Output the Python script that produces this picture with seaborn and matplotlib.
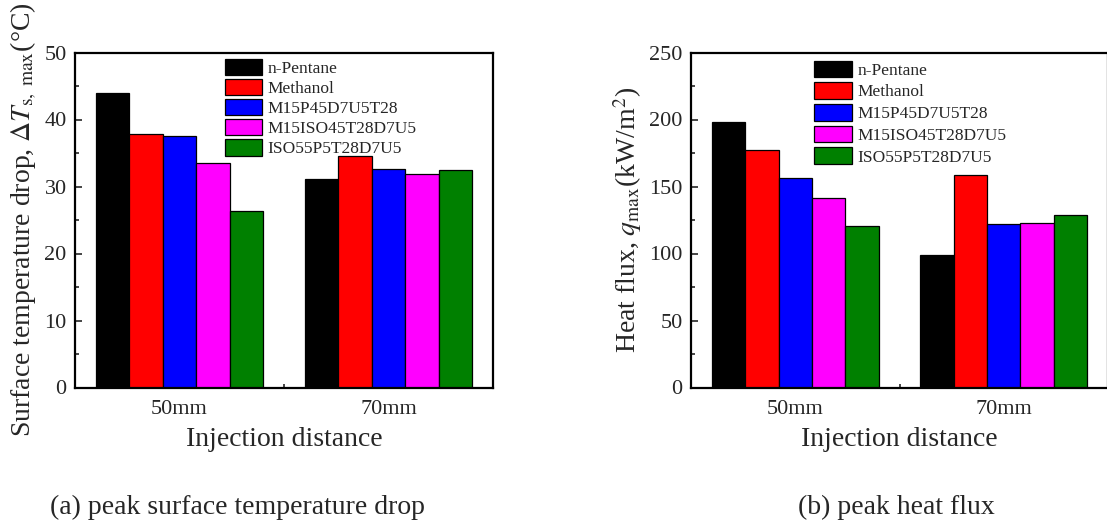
import pandas as pd
import seaborn as sns
import numpy as np
import matplotlib.pyplot as plt
from matplotlib.ticker import MultipleLocator

# values
distances = ['50mm', '70mm']
fuels = ['n-Pentane', 'Methanol', 'M15P45D7U5T28', 'M15ISO45T28D7U5', 'ISO55P5T28D7U5']
colors = ['black', 'red', 'blue', 'magenta', 'green']

temp_drop_50 = [44.0, 37.9, 37.6, 33.5, 26.4]
temp_drop_70 = [31.1, 34.5, 32.6, 31.8, 32.4]

heat_flux_50 = [197.8, 177.0, 156.6, 141.4, 120.8]
heat_flux_70 = [98.7, 158.8, 121.8, 122.8, 129.0]


def long_form(values_50, values_70):
    """ Build a long-form DataFrame from the two groups of bars. """
    rows = []
    for dist, vals in zip(distances, [values_50, values_70]):
        for fuel, v in zip(fuels, vals):
            rows.append({'distance': dist, 'fuel': fuel, 'value': v})
    return pd.DataFrame(rows)


def draw_panel(ax, df, ymax, ystep, ylabel, legend_anchor, spacing, hlen, hheight):
    sns.barplot(data=df, x='distance', y='value', hue='fuel', palette=colors,
                order=distances, hue_order=fuels, saturation=1, width=0.8,
                edgecolor='black', linewidth=0.9, ax=ax)

    ax.set_xlim(-0.5, 1.5)
    ax.set_ylim(0, ymax)
    ax.yaxis.set_major_locator(MultipleLocator(ystep))
    ax.yaxis.set_minor_locator(MultipleLocator(ystep / 2))
    ax.set_xticks([0.5], minor=True)

    ax.tick_params(which='both', direction='in', top=False, right=False, width=1.2)
    ax.tick_params(which='major', length=5, labelsize=16)
    ax.tick_params(axis='x', which='major', pad=9)
    ax.tick_params(axis='y', which='major', pad=6)
    ax.tick_params(which='minor', length=3)

    for spine in ax.spines.values():
        spine.set_visible(True)
        spine.set_linewidth(1.6)
        spine.set_color('black')

    ax.set_xlabel('Injection distance', fontsize=20, labelpad=6)
    ax.set_ylabel(ylabel, fontsize=20, labelpad=4)

    ax.legend(loc='upper left', bbox_to_anchor=legend_anchor, frameon=False,
              fontsize=12.5, borderpad=0, borderaxespad=0, handlelength=hlen,
              handleheight=hheight, labelspacing=spacing, handletextpad=0.3)


sns.set_theme(style='ticks')
plt.rcParams['font.family'] = ['Liberation Serif', 'DejaVu Serif']
plt.rcParams['mathtext.fontset'] = 'stix'
plt.rcParams['axes.facecolor'] = 'white'

fig = plt.figure(figsize=(11.07, 5.24), dpi=100)
ax1 = fig.add_axes([75 / 1107, 136.5 / 524, 418 / 1107, 335 / 524])
ax2 = fig.add_axes([691 / 1107, 136.5 / 524, 417 / 1107, 335 / 524])

draw_panel(ax1, long_form(temp_drop_50, temp_drop_70), 50, 10,
           r'Surface temperature drop, $\Delta T_{\mathrm{s,\ max}}$(°C)',
           (0.36, 0.98), 0.12, 2.1, 1.05)
draw_panel(ax2, long_form(heat_flux_50, heat_flux_70), 250, 50,
           r'Heat flux, $q_{\mathrm{max}}$(kW/m$^2$)',
           (0.295, 0.976), 0.2, 2.2, 1.1)

fig.text(50 / 1107, 1 - 507 / 524, '(a) peak surface temperature drop',
         fontsize=20, ha='left', va='center')
fig.text(798 / 1107, 1 - 507 / 524, '(b) peak heat flux',
         fontsize=20, ha='left', va='center')

fig.savefig('out.png', dpi=100)
